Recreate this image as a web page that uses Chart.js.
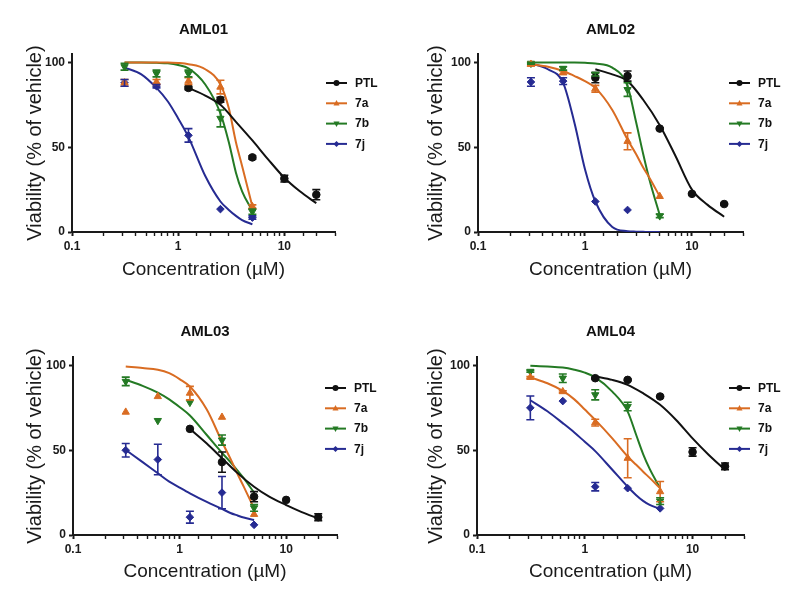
<!DOCTYPE html>
<html>
<head>
<meta charset="utf-8">
<script src="https://cdn.jsdelivr.net/npm/chart.js@4.4.1/dist/chart.umd.min.js"></script>
<style>
  body { margin: 0; background: #fff; }
  #wrap { position: relative; width: 800px; height: 605px; }
  .panel { position: absolute; }
</style>
</head>
<body>
<div id="wrap">
  <div class="panel" style="left:0;top:0"><canvas id="c1" width="400" height="300"></canvas></div>
  <div class="panel" style="left:400px;top:0"><canvas id="c2" width="400" height="300"></canvas></div>
  <div class="panel" style="left:0;top:300px"><canvas id="c3" width="400" height="305"></canvas></div>
  <div class="panel" style="left:400px;top:300px"><canvas id="c4" width="400" height="305"></canvas></div>
</div>
<script>
"use strict";
// concentrations (uM)
const conc = [0.3125, 0.625, 1.25, 2.5, 5];
const concPTL = [1.25, 2.5, 5, 10, 20];
const fitConc = [0.3125, 0.45, 0.625, 0.8, 1, 1.25, 1.8, 2.5, 3, 3.5, 4, 5];
const fitConcPTL = [1.25, 1.8, 2.5, 3.5, 5, 7, 10, 14, 20];
const xTickLabels = [0.1, 1, 10];
const yTickValues = [0, 50, 100];
const seriesNames = ['PTL', '7a', '7b', '7j'];
const panelTitles = ['AML01', 'AML02', 'AML03', 'AML04'];

// rows: PTL, 7a, 7b, 7j
const aml01Mean = [[85, 78, 44, 31.5, 22], [88, 88.5, 89, 85.5, 15], [97.5, 93.5, 93.5, 67, 12], [88, 86, 57, 13.5, 8.5]];
const aml01Err = [[1, 1.5, 1, 2, 3], [2, 1.5, 2, 4, 1], [2, 2, 2, 5, 1.5], [2, 1, 4, 0, 1]];
const aml01Fit = [
  [85, 80.5, 75, 65, 54, 43, 32, 24, 17],
  [100, 100, 100, 100, 99.7, 99, 96, 87, 73, 53, 39, 15],
  [100, 100, 99.8, 99.5, 98.5, 96.5, 87, 70, 53, 35, 24, 12.5],
  [97, 93, 85, 77, 67, 56, 33, 18, 13, 9.5, 7, 4.5]
];

const aml02Mean = [[91, 92, 61, 22.5, 16.5], [99, 94, 84.5, 53.5, 21], [99.5, 96.5, 93, 84, 9.5], [88.5, 89, 18, 13, null]];
const aml02Err = [[3, 3, 0.5, 0.5, 0.5], [1, 1, 2, 5, 0], [0.5, 1, 1, 4, 1], [2.5, 2, 0, 0, 0]];
const aml02Fit = [
  [96, 93, 89, 78, 63, 45, 25, 16, 9],
  [99, 97.5, 95, 92, 89, 85, 72, 54.5, 46, 38, 32, 21],
  [100, 100, 100, 100, 99.8, 99.4, 97, 86, 65, 46, 31, 10],
  [99.4, 96, 88, 64, 37, 18, 3, 0.5, 0.2, 0.1, 0, 0]
];

const aml03Mean = [[62.6, 43, 22.6, 20.7, 10.5], [72.5, 81.7, 83.7, 69.5, 12.2], [90.6, 67.5, 78.2, 56, 16], [50, 44.5, 10.5, 25, 6]];
const aml03Err = [[0, 6, 3, 0, 2], [0, 0, 4, 0, 0], [2.5, 0, 0, 3, 2], [4, 9, 3.5, 9.5, 0]];
const aml03Fit = [
  [62.6, 54, 45.3, 36.5, 28.5, 22.5, 17.7, 13.5, 9.8],
  [99.4, 98.5, 97.5, 95.5, 92, 87.6, 74, 55, 45, 36, 28.5, 15.7],
  [91.5, 88, 84, 80, 75.5, 70.5, 59, 48.5, 43, 38, 33.5, 25],
  [50.2, 43, 36.4, 31.5, 28, 24.6, 19.5, 15.4, 13, 11.5, 10.3, 8.9]
];

const aml04Mean = [[92.5, 91.5, 81.7, 49, 40.5], [93, 84.6, 66.3, 45.3, 25.6], [96.5, 92.5, 82.7, 75.8, 20], [75, 79, 28.5, 27.6, 15.7]];
const aml04Err = [[0.5, 0.5, 0.5, 2.5, 2], [0.5, 0.5, 2, 11.5, 6], [0.5, 2.5, 3, 2.5, 2], [7, 0, 2.5, 0, 0]];
const aml04Fit = [
  [93.6, 91.5, 88.6, 83.5, 76.8, 68, 57, 47.5, 38.4],
  [93, 89.5, 85, 80, 74, 67.9, 57, 46.3, 41.4, 37.2, 33.7, 27.6],
  [99.8, 99.4, 98.8, 97.5, 95.8, 93, 84.6, 72.8, 59, 47.3, 39, 27.6],
  [79.5, 73, 66, 60.5, 55, 49.5, 38.5, 28.5, 23.5, 20, 17.8, 15.4]
];

// styling
const colors = ['#111111', '#d96c22', '#247a24', '#262b92'];
const markers = ['circle', 'triangle', 'triangle', 'rectRot'];
const rotations = [0, 0, 180, 0];
const markerSize = [3.8, 4.2, 4.2, 3.8];
const FONT = "Arial, 'Liberation Sans', sans-serif";

// pixel boxes of each panel (canvas coordinates)
const layouts = [
  { left: 72, right: 335, top: 54, bottom: 232, h: 300, titleTop: 21, yTitle: 23, xTitle: 18.6, legendX: 326, legendY: 29 },
  { left: 78, right: 343, top: 54, bottom: 232, h: 300, titleTop: 21, yTitle: 24.5, xTitle: 18.6, legendX: 329, legendY: 29 },
  { left: 73, right: 337, top: 57, bottom: 235, h: 305, titleTop: 22.7, yTitle: 23, xTitle: 21.5, legendX: 325, legendY: 31 },
  { left: 77, right: 344, top: 57, bottom: 235, h: 305, titleTop: 22.7, yTitle: 24.5, xTitle: 21.5, legendX: 329, legendY: 31 }
];

function isPow10(v) {
  const l = Math.log10(v);
  return Math.abs(l - Math.round(l)) < 1e-6;
}

function drawMarker(ctx, style, rot, x, y, r) {
  ctx.beginPath();
  if (style === 'circle') {
    ctx.arc(x, y, r, 0, Math.PI * 2);
  } else if (style === 'triangle') {
    const d = rot === 180 ? -1 : 1;
    ctx.moveTo(x, y - d * r * 1.1);
    ctx.lineTo(x - r, y + d * r * 0.7);
    ctx.lineTo(x + r, y + d * r * 0.7);
    ctx.closePath();
  } else {
    ctx.moveTo(x, y - r);
    ctx.lineTo(x + r, y);
    ctx.lineTo(x, y + r);
    ctx.lineTo(x - r, y);
    ctx.closePath();
  }
  ctx.fill();
}

const errorBars = {
  id: 'errorBars',
  afterDatasetsDraw(chart) {
    const ctx = chart.ctx, xs = chart.scales.x, ys = chart.scales.y;
    chart.data.datasets.forEach(ds => {
      if (!ds.errors) return;
      ctx.save();
      ctx.strokeStyle = ds.borderColor;
      ctx.lineWidth = 1.6;
      ds.data.forEach((p, k) => {
        const e = ds.errors[k];
        if (!e) return;
        const px = xs.getPixelForValue(p.x);
        const y1 = ys.getPixelForValue(p.y + e), y2 = ys.getPixelForValue(p.y - e);
        ctx.beginPath();
        ctx.moveTo(px, y1); ctx.lineTo(px, y2);
        ctx.moveTo(px - 4, y1); ctx.lineTo(px + 4, y1);
        ctx.moveTo(px - 4, y2); ctx.lineTo(px + 4, y2);
        ctx.stroke();
      });
      ctx.restore();
    });
  }
};

const sideLegend = {
  id: 'sideLegend',
  afterDraw(chart, args, opts) {
    const ctx = chart.ctx, a = chart.chartArea;
    ctx.save();
    seriesNames.forEach((name, i) => {
      const y = a.top + opts.y + i * 20.3;
      const x0 = opts.x;
      ctx.strokeStyle = colors[i];
      ctx.fillStyle = colors[i];
      ctx.lineWidth = 2;
      ctx.beginPath();
      ctx.moveTo(x0, y); ctx.lineTo(x0 + 21, y);
      ctx.stroke();
      drawMarker(ctx, markers[i], rotations[i], x0 + 10.5, y, 3);
      ctx.fillStyle = '#111';
      ctx.font = 'bold 12px ' + FONT;
      ctx.textBaseline = 'middle';
      ctx.fillText(name, x0 + 29, y + 0.5);
    });
    ctx.restore();
  }
};

function buildChart(canvasId, idx, mean, err, fit) {
  const L = layouts[idx];
  const datasets = [];
  seriesNames.forEach((name, s) => {
    const xs = s === 0 ? concPTL : conc;
    const fx = s === 0 ? fitConcPTL : fitConc;
    const pts = [], errs = [];
    xs.forEach((c, k) => {
      if (mean[s][k] != null) {
        pts.push({ x: c, y: mean[s][k] });
        errs.push(err[s][k]);
      }
    });
    datasets.push({
      label: name, data: pts, errors: errs, showLine: false,
      pointStyle: markers[s], rotation: rotations[s], pointRadius: markerSize[s],
      backgroundColor: colors[s], borderColor: colors[s], borderWidth: 1, order: 0
    });
    datasets.push({
      label: name + ' fit', data: fx.map((c, k) => ({ x: c, y: fit[s][k] })),
      showLine: true, pointRadius: 0, borderColor: colors[s], borderWidth: 2,
      cubicInterpolationMode: 'monotone', fill: false, order: 1
    });
  });

  return new Chart(document.getElementById(canvasId), {
    type: 'scatter',
    data: { datasets: datasets },
    plugins: [errorBars, sideLegend],
    options: {
      responsive: false,
      animation: false,
      devicePixelRatio: 1,
      layout: { padding: { left: 0, right: 400 - L.right, top: 0, bottom: 0 } },
      plugins: {
        legend: { display: false },
        tooltip: { enabled: false },
        sideLegend: { x: L.legendX, y: L.legendY },
        title: {
          display: true, text: panelTitles[idx], fullSize: false, color: '#111',
          font: { family: FONT, size: 15, weight: 'bold' },
          padding: { top: L.titleTop, bottom: L.top - L.titleTop - 18 }
        }
      },
      scales: {
        x: {
          type: 'logarithmic', min: 0.1, max: 30,
          border: { color: '#1a1a1a', width: 2 },
          grid: {
            drawOnChartArea: false, drawTicks: true, tickLength: 4, color: '#1a1a1a',
            tickWidth: c => (c.tick && isPow10(c.tick.value)) ? 2 : 1.4
          },
          ticks: {
            autoSkip: false, maxRotation: 0, padding: 3, color: '#1a1a1a',
            font: { family: FONT, size: 12, weight: 'bold' },
            callback: v => (isPow10(v) && xTickLabels.some(t => Math.abs(t - v) < 1e-9)) ? String(Number(v.toPrecision(3))) : ''
          },
          title: {
            display: true, text: 'Concentration (\u00b5M)', color: '#1a1a1a',
            font: { family: FONT, size: 19 }, padding: { top: 0, bottom: L.xTitle }
          },
          afterFit: s => { s.height = L.h - L.bottom; }
        },
        y: {
          min: 0, max: 105,
          afterBuildTicks: s => { s.ticks = yTickValues.map(v => ({ value: v })); },
          border: { color: '#1a1a1a', width: 2 },
          grid: { drawOnChartArea: false, drawTicks: true, tickLength: 4, color: '#1a1a1a', tickWidth: 2 },
          ticks: { padding: 3, color: '#1a1a1a', font: { family: FONT, size: 12, weight: 'bold' } },
          title: {
            display: true, text: 'Viability (% of vehicle)', color: '#1a1a1a',
            font: { family: FONT, size: 20 }, padding: { top: L.yTitle, bottom: 0 }
          },
          afterFit: s => { s.width = L.left; }
        }
      }
    }
  });
}

buildChart('c1', 0, aml01Mean, aml01Err, aml01Fit);
buildChart('c2', 1, aml02Mean, aml02Err, aml02Fit);
buildChart('c3', 2, aml03Mean, aml03Err, aml03Fit);
buildChart('c4', 3, aml04Mean, aml04Err, aml04Fit);
</script>
</body>
</html>
